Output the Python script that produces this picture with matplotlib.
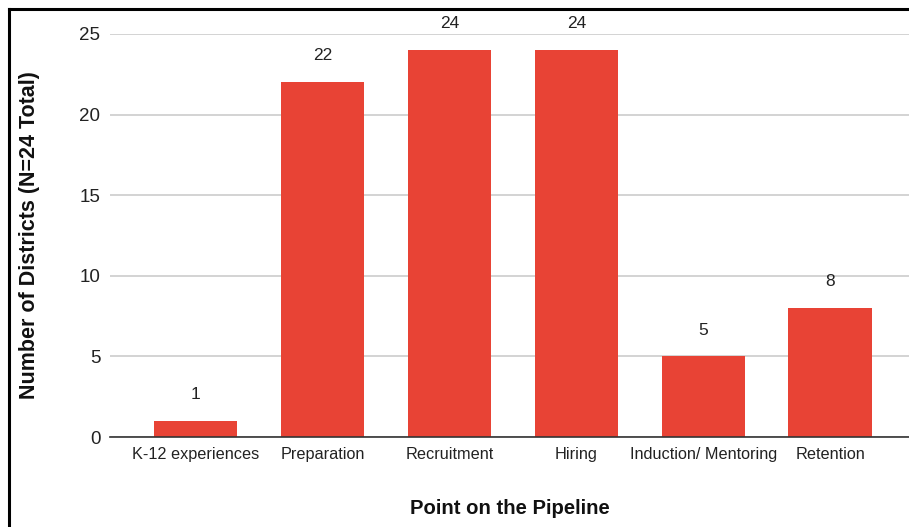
import matplotlib
matplotlib.use("Agg")
import matplotlib.pyplot as plt
from matplotlib.lines import Line2D

# Districts addressing each stage of the teacher pipeline
stages = ["K-12 experiences", "Preparation", "Recruitment", "Hiring",
          "Induction/ Mentoring", "Retention"]
districts = [1, 22, 24, 24, 5, 8]
y_ticks = [0, 5, 10, 15, 20, 25]

W, H = 909, 527
plt.rcParams["font.family"] = ["Liberation Sans", "DejaVu Sans"]

fig = plt.figure(figsize=(W / 100, H / 100), dpi=100)
fig.patch.set_facecolor("white")

ax = fig.add_axes([110 / W, 1 - 437 / H, (W - 110) / W, (437 - 34) / H])
x = list(range(len(stages)))
bars = ax.bar(x, districts, width=0.656, color="#E84335", zorder=3)

ax.set_ylim(0, 25)
ax.set_xlim(-0.677, 5.622)
ax.set_yticks(y_ticks)
ax.set_yticklabels([str(t) for t in y_ticks], fontsize=13.5, color="#222222")
ax.set_xticks(x)
ax.set_xticklabels(stages, fontsize=11.7, color="#222222")
ax.tick_params(axis="both", length=0)
ax.tick_params(axis="y", pad=7)
ax.tick_params(axis="x", pad=7)

ax.grid(axis="y", color="#cccccc", linewidth=1.2, zorder=0)
for side in ["left", "right", "top"]:
    ax.spines[side].set_visible(False)
ax.spines["bottom"].set_color("#333333")
ax.spines["bottom"].set_linewidth(1.2)
ax.spines["bottom"].set_zorder(4)

for xi, v in zip(x, districts):
    ax.annotate(str(v), (xi, v), xytext=(0, 19), textcoords="offset points",
                ha="center", va="center", fontsize=12.5, color="#222222",
                annotation_clip=False)

ax.set_xlabel("Point on the Pipeline", fontsize=14.6, fontweight="bold",
              color="#111111", labelpad=27)
ax.set_ylabel("Number of Districts (N=24 Total)", fontsize=15.5,
              fontweight="bold", color="#111111", labelpad=28)

# Frame lines along the top and left edges
fig.add_artist(Line2D([8.7 / W, 8.7 / W], [0, 1 - 8.7 / H],
                      transform=fig.transFigure, color="black", linewidth=2.2))
fig.add_artist(Line2D([8.7 / W, 1], [1 - 8.7 / H, 1 - 8.7 / H],
                      transform=fig.transFigure, color="black", linewidth=2.2))

fig.savefig("out.png", dpi=100)
